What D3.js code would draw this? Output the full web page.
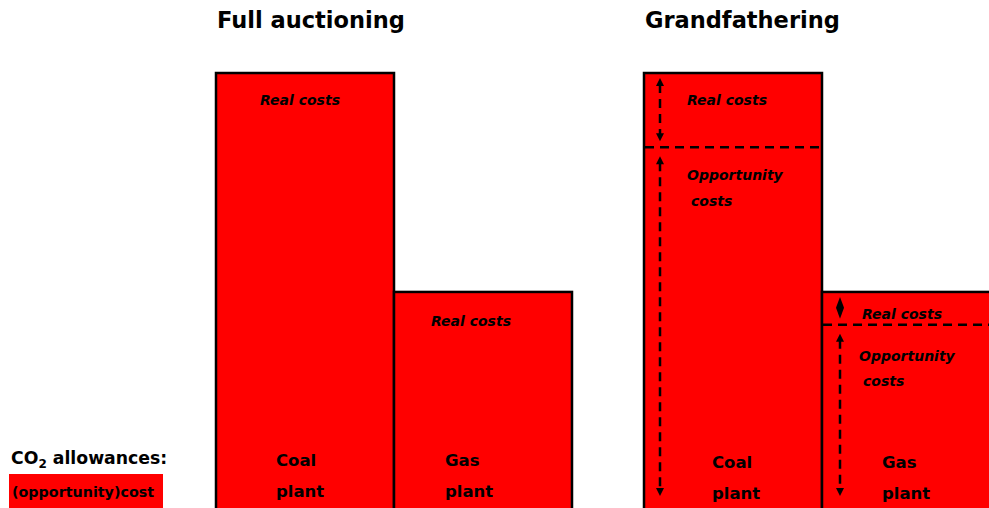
<!DOCTYPE html>
<html>
<head>
<meta charset="utf-8">
<script src="https://cdn.jsdelivr.net/npm/d3@7"></script>
<style>
  body { margin: 0; background: #fff; }
  svg { display: block; font-family: "DejaVu Sans", Verdana, sans-serif; }
</style>
</head>
<body>
<div id="chart"></div>
<script>
// data
const panels = ['Full auctioning', 'Grandfathering'];
const plants = ['Coal', 'Gas'];
const realCosts = [17, 7.5];          // share of cost that is real
const opportunityCosts = [83.2, 42.5];  // share that is opportunity cost of CO2 allowances
const legendTitle = 'allowances:';
const legendLabel = '(opportunity)cost';

const width = 989;
const height = 508;
const red = '#ff0000';

const svg = d3.select('#chart')
  .append('svg')
  .attr('width', width)
  .attr('height', height);

// y scale shared by both panels (baseline sits just below the frame)
const y = d3.scaleLinear()
  .domain([0, 100.2])
  .range([510, 73]);

// one band scale per panel
const panelX = [
  d3.scaleBand().domain(plants).range([216, 572]).padding(0),
  d3.scaleBand().domain(plants).range([644, 1000]).padding(0)
];

const totals = plants.map((p, i) => realCosts[i] + opportunityCosts[i]);

panels.forEach((title, pi) => {
  const x = panelX[pi];
  const g = svg.append('g');

  g.append('text')
    .attr('x', x.range()[0] + 1)
    .attr('y', 28)
    .style('font-size', '22.5px')
    .style('font-weight', 'bold')
    .attr('fill', '#000')
    .text(title);

  // bars
  g.selectAll('rect.bar')
    .data(plants)
    .enter()
    .append('rect')
    .attr('class', 'bar')
    .attr('x', d => x(d))
    .attr('y', (d, i) => y(totals[i]))
    .attr('width', x.bandwidth())
    .attr('height', (d, i) => y(0) - y(totals[i]))
    .attr('fill', red)
    .attr('stroke', '#000')
    .attr('stroke-width', 2.5);

  // plant labels
  plants.forEach((p, i) => {
    const lx = x(p) + (i === 0 ? 60 : 51) - (pi === 1 ? (i === 0 ? -8 : -9) : 0);
    const base = pi === 0 ? 466 : 468;
    g.append('text')
      .attr('x', lx).attr('y', base)
      .style('font-size', '16.5px').style('font-weight', 'bold')
      .text(p);
    g.append('text')
      .attr('x', lx).attr('y', base + 31)
      .style('font-size', '16.5px').style('font-weight', 'bold')
      .text('plant');
  });

  if (pi === 0) {
    // full auctioning: everything is a real cost
    g.append('text')
      .attr('x', x('Coal') + 44).attr('y', 105)
      .style('font-size', '14px').style('font-weight', 'bold').style('font-style', 'italic')
      .text('Real costs');
    g.append('text')
      .attr('x', x('Gas') + 37).attr('y', 326)
      .style('font-size', '14px').style('font-weight', 'bold').style('font-style', 'italic')
      .text('Real costs');
  } else {
    plants.forEach((p, i) => {
      const top = y(totals[i]);
      const split = y(opportunityCosts[i]);
      const bx = x(p);
      // dashed split line
      g.append('line')
        .attr('x1', bx + 1).attr('x2', bx + x.bandwidth())
        .attr('y1', split).attr('y2', split)
        .attr('stroke', '#000').attr('stroke-width', 2.5)
        .attr('stroke-dasharray', '9,6');

      const ax = bx + (i === 0 ? 16 : 18);
      drawArrow(g, ax, top + 5, split - 6, i === 1);
      drawArrow(g, ax, split + 9, 496, false);

      const tx = bx + (i === 0 ? 43 : 37);
      g.append('text')
        .attr('x', tx + (i === 0 ? 0 : 3)).attr('y', i === 0 ? 105 : 319)
        .style('font-size', '14px').style('font-weight', 'bold').style('font-style', 'italic')
        .text('Real costs');
      g.append('text')
        .attr('x', tx).attr('y', i === 0 ? 180 : 361)
        .style('font-size', '14px').style('font-weight', 'bold').style('font-style', 'italic')
        .text('Opportunity');
      g.append('text')
        .attr('x', tx + 4).attr('y', i === 0 ? 206 : 386)
        .style('font-size', '14px').style('font-weight', 'bold').style('font-style', 'italic')
        .text('costs');
    });
  }
});

// double headed dashed arrow
function drawArrow(g, x, y1, y2, tiny) {
  if (tiny) {
    g.append('path')
      .attr('d', `M${x},${y1} L${x + 4},${(y1 + y2) / 2} L${x},${y2} L${x - 4},${(y1 + y2) / 2} Z`)
      .attr('fill', '#000');
    return;
  }
  g.append('line')
    .attr('x1', x).attr('x2', x)
    .attr('y1', y1 + 6).attr('y2', y2 - 6)
    .attr('stroke', '#000').attr('stroke-width', 2.5)
    .attr('stroke-dasharray', '9,6');
  g.append('path')
    .attr('d', `M${x},${y1} L${x + 4},${y1 + 8} L${x - 4},${y1 + 8} Z`)
    .attr('fill', '#000');
  g.append('path')
    .attr('d', `M${x},${y2} L${x + 4},${y2 - 8} L${x - 4},${y2 - 8} Z`)
    .attr('fill', '#000');
}

// legend
const legend = svg.append('g');
const lt = legend.append('text')
  .attr('x', 11).attr('y', 464)
  .style('font-size', '17.3px').style('font-weight', 'bold');
lt.append('tspan').text('CO');
lt.append('tspan').attr('dy', 4).style('font-size', '12px').text('2');
lt.append('tspan').attr('dy', -4).text(' ' + legendTitle);

legend.append('rect')
  .attr('x', 9).attr('y', 474)
  .attr('width', 154).attr('height', 34)
  .attr('fill', red);
legend.append('text')
  .attr('x', 12).attr('y', 497)
  .style('font-size', '14.3px').style('font-weight', 'bold')
  .text(legendLabel);
</script>
</body>
</html>
